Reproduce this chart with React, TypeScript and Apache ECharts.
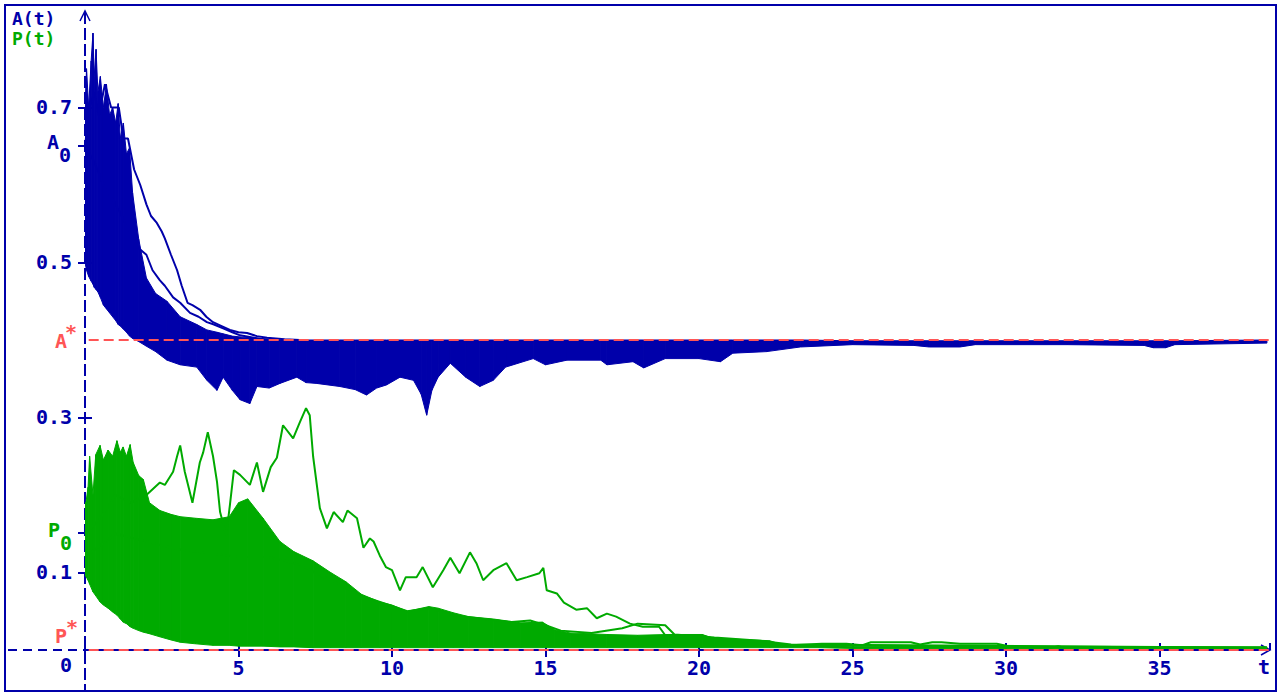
import React, { useEffect, useRef } from "react";
import * as echarts from "echarts";

// ---------- colours / fonts ----------
const BLUE = "#0000aa";
const GREEN = "#00aa00";
const RED = "#ff5555";
const FONT = '"DejaVu Sans Mono", monospace';

// ---------- axis parameters ----------
const X_MAX = 38.6;
const Y_MAX = 0.8258;
const X_INTERVAL = 5;
const Y_LABEL_VALUES = [0.1, 0.3, 0.5, 0.7];
const A0 = 0.65;
const P0 = 0.151;
const A_STAR = 0.4;
const P_STAR = 0;
const REF_SPAN = [0.12, 38.6];

// ---------- blue cloud A(t): [t, lower edge, upper edge] ----------
const BLUE_BAND: [number, number, number][] = [
  [0, 0.5, 0.7], [0.05, 0.49, 0.75], [0.12, 0.482, 0.7], [0.2, 0.476, 0.76],
  [0.26, 0.472, 0.796], [0.3, 0.468, 0.74], [0.36, 0.465, 0.775], [0.42, 0.462, 0.72],
  [0.5, 0.455, 0.74], [0.6, 0.445, 0.7], [0.7, 0.44, 0.73], [0.8, 0.435, 0.69],
  [0.9, 0.43, 0.7], [1.0, 0.425, 0.68], [1.08, 0.42, 0.705], [1.15, 0.418, 0.66],
  [1.25, 0.414, 0.68], [1.35, 0.41, 0.64], [1.45, 0.405, 0.648], [1.55, 0.402, 0.59],
  [1.75, 0.398, 0.53], [2.0, 0.392, 0.48], [2.3, 0.385, 0.46], [2.67, 0.374, 0.45],
  [3.1, 0.368, 0.43], [3.64, 0.365, 0.42], [3.97, 0.348, 0.413], [4.3, 0.335, 0.41],
  [4.5, 0.352, 0.408], [4.8, 0.335, 0.405], [5.05, 0.323, 0.404], [5.37, 0.318, 0.403],
  [5.6, 0.34, 0.402], [6.0, 0.338, 0.401], [6.35, 0.344, 0.4], [6.9, 0.352, 0.4],
  [7.2, 0.345, 0.4], [7.54, 0.344, 0.4], [8.3, 0.34, 0.4], [8.8, 0.336, 0.4],
  [9.17, 0.329, 0.4], [9.5, 0.338, 0.4], [9.82, 0.342, 0.4], [10.26, 0.352, 0.4],
  [10.7, 0.348, 0.4], [10.95, 0.33, 0.4], [11.13, 0.303, 0.4], [11.3, 0.335, 0.4],
  [11.5, 0.352, 0.4], [11.9, 0.37, 0.4], [12.4, 0.352, 0.4], [12.86, 0.34, 0.4],
  [13.3, 0.348, 0.4], [13.7, 0.365, 0.4], [14.6, 0.376, 0.4], [15.0, 0.368, 0.4],
  [15.7, 0.374, 0.4], [16.8, 0.374, 0.4], [17.0, 0.368, 0.4], [17.85, 0.372, 0.4],
  [18.2, 0.364, 0.4], [18.9, 0.376, 0.4], [20.0, 0.376, 0.4], [20.7, 0.372, 0.4],
  [21.1, 0.383, 0.4], [22.2, 0.385, 0.4], [23.3, 0.391, 0.4], [25, 0.394, 0.399],
  [27, 0.393, 0.399], [27.5, 0.391, 0.399], [28.5, 0.391, 0.399], [29, 0.394, 0.399],
  [32, 0.394, 0.399], [34.5, 0.393, 0.399], [34.8, 0.39, 0.399], [35.2, 0.39, 0.399],
  [35.5, 0.394, 0.399], [38.5, 0.396, 0.4],
];

// two slow blue trajectories above the cloud
const BLUE_PATH_1: [number, number][] = [
  [0, 0.65], [0.15, 0.7], [0.3, 0.72], [0.45, 0.69], [0.65, 0.73], [0.85, 0.7], [1.1, 0.7],
  [1.25, 0.66], [1.4, 0.66], [1.6, 0.62], [1.8, 0.6], [2.0, 0.575], [2.15, 0.56], [2.34, 0.551],
  [2.5, 0.54], [2.6, 0.531], [2.8, 0.51], [3.0, 0.49], [3.15, 0.47], [3.34, 0.448], [3.5, 0.445],
  [3.75, 0.439], [3.95, 0.43], [4.17, 0.423], [4.45, 0.418], [4.72, 0.413], [5.0, 0.41],
  [5.28, 0.409], [5.6, 0.405], [5.93, 0.403], [6.5, 0.401], [7, 0.4],
];
const BLUE_PATH_2: [number, number][] = [
  [0, 0.65], [0.3, 0.63], [0.6, 0.6], [1.0, 0.575], [1.2, 0.56], [1.47, 0.538], [1.7, 0.52],
  [2.0, 0.51], [2.2, 0.49], [2.44, 0.477], [2.6, 0.47], [2.87, 0.455], [3.1, 0.448],
  [3.42, 0.435], [3.7, 0.43], [3.97, 0.423], [4.2, 0.42], [4.5, 0.415], [4.8, 0.41],
  [5.05, 0.406], [5.5, 0.403], [6, 0.4],
];

// ---------- green cloud P(t): [t, lower edge, upper edge] ----------
const GREEN_BAND: [number, number, number][] = [
  [0, 0.1, 0.19], [0.03, 0.095, 0.19], [0.1, 0.09, 0.21], [0.15, 0.085, 0.25],
  [0.26, 0.075, 0.2], [0.35, 0.07, 0.252], [0.49, 0.062, 0.264], [0.6, 0.058, 0.245],
  [0.75, 0.054, 0.258], [0.9, 0.049, 0.25], [1.04, 0.045, 0.27], [1.15, 0.04, 0.255],
  [1.24, 0.036, 0.262], [1.35, 0.034, 0.25], [1.47, 0.03, 0.265], [1.57, 0.028, 0.242],
  [1.75, 0.025, 0.225], [1.9, 0.023, 0.22], [2.0, 0.022, 0.205], [2.1, 0.021, 0.19],
  [2.44, 0.017, 0.18], [2.8, 0.013, 0.175], [3.1, 0.01, 0.172], [3.6, 0.008, 0.17],
  [4.17, 0.006, 0.168], [4.7, 0.006, 0.172], [5.0, 0.005, 0.19], [5.3, 0.005, 0.195],
  [5.8, 0.005, 0.17], [6.35, 0.004, 0.14], [6.8, 0.004, 0.127], [7.43, 0.003, 0.115],
  [8.0, 0.003, 0.1], [8.5, 0.003, 0.088], [9.0, 0.003, 0.072], [9.6, 0.003, 0.062],
  [10.0, 0.003, 0.058], [10.5, 0.003, 0.05], [11.2, 0.003, 0.056], [11.5, 0.003, 0.054],
  [12.0, 0.003, 0.048], [12.5, 0.003, 0.043], [13.3, 0.003, 0.04], [14.2, 0.003, 0.035],
  [14.9, 0.003, 0.036], [15.3, 0.003, 0.026], [15.8, 0.003, 0.022], [17.0, 0.003, 0.02],
  [18.0, 0.003, 0.019], [19.0, 0.003, 0.02], [20.1, 0.003, 0.02], [20.5, 0.003, 0.015],
  [22.3, 0.003, 0.012], [22.7, 0.003, 0.007], [23.9, 0.003, 0.006], [25, 0.002, 0.005],
  [30, 0.002, 0.004], [38.5, 0.002, 0.004],
];

// the large green excursion (peak near t = 7.2)
const GREEN_PATH_1: [number, number][] = [
  [0, 0.15], [0.5, 0.17], [1.0, 0.2], [1.5, 0.19], [2.0, 0.2], [2.44, 0.216], [2.6, 0.213],
  [2.87, 0.23], [3.0, 0.25], [3.1, 0.264], [3.25, 0.23], [3.5, 0.19], [3.74, 0.242],
  [3.85, 0.255], [4.0, 0.281], [4.17, 0.25], [4.3, 0.217], [4.4, 0.178], [4.6, 0.148],
  [4.72, 0.187], [4.85, 0.232], [5.05, 0.226], [5.37, 0.213], [5.6, 0.242], [5.8, 0.204],
  [6.05, 0.236], [6.25, 0.248], [6.45, 0.29], [6.78, 0.273], [7.0, 0.294], [7.2, 0.312],
  [7.32, 0.303], [7.43, 0.25], [7.65, 0.183], [7.88, 0.157], [8.1, 0.178], [8.4, 0.165],
  [8.55, 0.18], [8.86, 0.17], [9.07, 0.132], [9.28, 0.144], [9.4, 0.14], [9.6, 0.122],
  [9.8, 0.107], [10.0, 0.103], [10.26, 0.077], [10.45, 0.094], [10.8, 0.094], [11.0, 0.107],
  [11.33, 0.081], [11.67, 0.103], [11.9, 0.119], [12.2, 0.099], [12.54, 0.126], [12.75, 0.112],
  [12.97, 0.09], [13.3, 0.103], [13.73, 0.112], [14.06, 0.09], [14.4, 0.094], [14.8, 0.099],
  [14.93, 0.106], [15.04, 0.077], [15.37, 0.073], [15.6, 0.061], [16.0, 0.052], [16.35, 0.054],
  [16.67, 0.041], [17.0, 0.047], [17.3, 0.043], [17.75, 0.034], [18.17, 0.03], [18.7, 0.03],
  [18.9, 0.019], [20.1, 0.019], [20.5, 0.013], [22, 0.01], [23, 0.006], [38.5, 0.003],
];
const GREEN_PATH_2: [number, number][] = [
  [0, 0.12], [1, 0.15], [2, 0.14], [3, 0.13], [4, 0.125], [5, 0.12], [6, 0.12], [7, 0.11],
  [8, 0.09], [9, 0.07], [9.9, 0.058], [10.5, 0.05], [11.2, 0.054], [12, 0.045], [13, 0.04],
  [13.9, 0.036], [14.5, 0.038], [15, 0.032], [15.5, 0.025], [16.5, 0.022], [17.5, 0.028],
  [18, 0.034], [18.9, 0.032], [19.2, 0.02], [20.5, 0.016], [22, 0.012], [23, 0.007], [38.5, 0.003],
];
const GREEN_PATH_3: [number, number][] = [
  [20, 0.015], [22, 0.01], [23, 0.006], [24, 0.008], [24.8, 0.008], [25.3, 0.006], [25.6, 0.01],
  [26.9, 0.01], [27.2, 0.007], [27.6, 0.01], [27.9, 0.01], [28.5, 0.008], [29.7, 0.008],
  [30.2, 0.004], [31.5, 0.003], [31.7, 0.005], [31.9, 0.003], [38.5, 0.003],
];

function bandSeries(name: string, rows: [number, number, number][], color: string, z: number) {
  return {
    type: "custom",
    name,
    z,
    silent: true,
    clip: true,
    xAxisIndex: 0,
    yAxisIndex: 0,
    data: rows.map((r) => [r[0], r[1], r[2]]),
    encode: { x: 0, y: [1, 2] },
    renderItem: (params: any, api: any) => {
      const i = params.dataIndex;
      if (i >= rows.length - 1) return { type: "group", children: [] };
      const a = rows[i];
      const b = rows[i + 1];
      const pts = [
        api.coord([a[0], a[1]]),
        api.coord([a[0], a[2]]),
        api.coord([b[0], b[2]]),
        api.coord([b[0], b[1]]),
      ];
      return {
        type: "polygon",
        shape: { points: pts },
        style: { fill: color, stroke: color, lineWidth: 1 },
      };
    },
  };
}

function pathSeries(name: string, data: [number, number][], color: string, z: number, width = 2) {
  return {
    type: "line",
    name,
    z,
    silent: true,
    showSymbol: false,
    symbol: "none",
    xAxisIndex: 0,
    yAxisIndex: 0,
    data,
    lineStyle: { color, width },
  };
}

export default function App() {
  const ref = useRef<HTMLDivElement>(null);

  useEffect(() => {
    if (!ref.current) return;
    const chart = echarts.init(ref.current, undefined, { renderer: "svg" });
    const labelFont = { fontFamily: FONT, fontWeight: "bold" as const, fontSize: 20, color: BLUE };

    chart.setOption({
      animation: false,
      backgroundColor: "#ffffff",
      grid: { left: 85, right: 10, top: 10, bottom: 45, containLabel: false },
      xAxis: [
        {
          type: "value",
          min: 0,
          max: X_MAX,
          interval: X_INTERVAL,
          position: "bottom",
          splitLine: { show: false },
          axisLine: { show: false },
          axisTick: { show: true, length: 7, lineStyle: { color: BLUE, width: 2 } },
          axisLabel: {
            ...labelFont,
            margin: 8,
            showMaxLabel: false,
            formatter: (v: number) => (v === 0 ? "" : String(v)),
          },
        },
        {
          type: "value",
          min: 0,
          max: X_MAX,
          interval: X_INTERVAL,
          position: "bottom",
          splitLine: { show: false },
          axisLine: { show: false },
          axisTick: { show: true, inside: true, length: 7, lineStyle: { color: BLUE, width: 2 } },
          axisLabel: { show: false },
        },
      ],
      yAxis: [
        {
          type: "value",
          min: 0,
          max: Y_MAX,
          position: "left",
          splitLine: { show: false },
          axisLine: { show: false },
          axisTick: {
            show: true,
            length: 7,
            customValues: [...Y_LABEL_VALUES, A0, P0],
            lineStyle: { color: BLUE, width: 2 },
          },
          axisLabel: {
            ...labelFont,
            margin: 13,
            customValues: Y_LABEL_VALUES,
            formatter: (v: number) => v.toFixed(1),
          },
        },
        {
          type: "value",
          min: 0,
          max: Y_MAX,
          position: "left",
          splitLine: { show: false },
          axisLine: { show: false },
          axisTick: {
            show: true,
            inside: true,
            length: 7,
            customValues: Y_LABEL_VALUES,
            lineStyle: { color: BLUE, width: 2 },
          },
          axisLabel: { show: false },
        },
      ],
      series: [
        bandSeries("A(t) cloud", BLUE_BAND, BLUE, 2),
        pathSeries("A(t) path 1", BLUE_PATH_1, BLUE, 3),
        pathSeries("A(t) path 2", BLUE_PATH_2, BLUE, 3),
        bandSeries("P(t) cloud", GREEN_BAND, GREEN, 4),
        pathSeries("P(t) path 1", GREEN_PATH_1, GREEN, 5),
        pathSeries("P(t) path 2", GREEN_PATH_2, GREEN, 5),
        pathSeries("P(t) path 3", GREEN_PATH_3, GREEN, 5),
        {
          type: "line",
          name: "A*",
          z: 6,
          silent: true,
          showSymbol: false,
          data: [[REF_SPAN[0], A_STAR], [REF_SPAN[1], A_STAR]],
          lineStyle: { color: RED, width: 2, type: [10, 5] },
        },
        {
          type: "line",
          name: "P*",
          z: 6,
          silent: true,
          showSymbol: false,
          data: [[REF_SPAN[0], P_STAR], [REF_SPAN[1], P_STAR]],
          lineStyle: { color: RED, width: 2, type: [10, 5] },
        },
      ],
    });

    const px = (x: number, y: number) =>
      chart.convertToPixel({ xAxisIndex: 0, yAxisIndex: 0 }, [x, y]) as number[];
    const o = px(0, 0);
    const top = px(0, Y_MAX);
    const right = px(X_MAX, 0);
    const yA0 = px(0, A0)[1];
    const yP0 = px(0, P0)[1];
    const yAs = px(0, A_STAR)[1];
    const yPs = px(0, P_STAR)[1];
    const W = 1280;
    const H = 695;
    const font = (size: number) => `bold ${size}px ${FONT}`;
    const txt = (text: string, x: number, y: number, fill: string, align = "left", size = 20) => ({
      type: "text",
      z: 20,
      x,
      y,
      silent: true,
      style: { text, fill, font: font(size), textAlign: align, textVerticalAlign: "middle" },
    });

    chart.setOption({
      graphic: [
        {
          type: "rect",
          z: 0,
          silent: true,
          shape: { x: 5, y: 5, width: W - 9, height: H - 9 },
          style: { fill: "none", stroke: BLUE, lineWidth: 2 },
        },
        {
          type: "line",
          z: 1,
          silent: true,
          shape: { x1: 8, y1: o[1], x2: right[0] - 2, y2: o[1] },
          style: { stroke: BLUE, lineWidth: 2, lineDash: [9, 6] },
        },
        {
          type: "line",
          z: 1,
          silent: true,
          shape: { x1: o[0], y1: top[1] + 2, x2: o[0], y2: H - 5 },
          style: { stroke: BLUE, lineWidth: 2, lineDash: [12, 4] },
        },
        {
          type: "polyline",
          z: 1,
          silent: true,
          shape: { points: [[o[0] - 5, top[1] + 11], [o[0], top[1] + 1], [o[0] + 5, top[1] + 11]] },
          style: { stroke: BLUE, lineWidth: 1.5, fill: "none" },
        },
        {
          type: "polyline",
          z: 1,
          silent: true,
          shape: { points: [[right[0] - 9, o[1] - 5], [right[0], o[1]], [right[0] - 9, o[1] + 5]] },
          style: { stroke: BLUE, lineWidth: 1.5, fill: "none" },
        },
        txt("A(t)", 12, 18, BLUE, "left", 18),
        txt("P(t)", 12, 38, GREEN, "left", 18),
        txt("A", 59, yA0 - 4, BLUE, "right"),
        txt("0", 59, yA0 + 9, BLUE, "left"),
        txt("P", 60, yP0 - 3, GREEN, "right"),
        txt("0", 60, yP0 + 10, GREEN, "left"),
        txt("A", 67, yAs + 1, RED, "right"),
        txt("*", 65, yAs - 8, RED, "left"),
        txt("P", 67, yPs - 14, RED, "right"),
        txt("*", 66, yPs - 23, RED, "left"),
        txt("0", 66, yPs + 15, BLUE, "center"),
        txt("t", right[0] - 6, yPs + 17, BLUE, "center"),
      ],
    });

    return () => chart.dispose();
  }, []);

  return (
    <div
      ref={ref}
      style={{ position: "fixed", left: 0, top: 0, width: 1280, height: 695, background: "#fff" }}
    />
  );
}
